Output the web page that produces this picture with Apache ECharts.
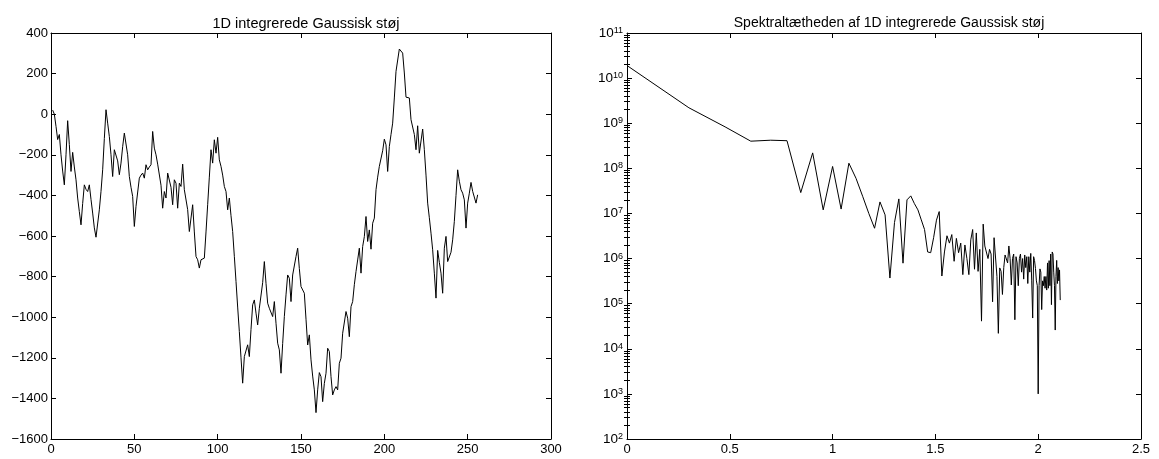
<!DOCTYPE html>
<html>
<head>
<meta charset="utf-8">
<script src="https://cdn.jsdelivr.net/npm/echarts@6/dist/echarts.min.js"></script>
<style>
html,body{margin:0;padding:0;background:#fff;}
#chart{width:1159px;height:459px;}
</style>
</head>
<body>
<div id="chart"></div>
<script>
// ---- Data ----
const leftTitle = "1D integrerede Gaussisk støj";
const rightTitle = "Spektraltætheden af 1D integrerede Gaussisk støj";

// integrated Gaussian noise, samples 1..256
const noiseValues = [
  20, 0, -60, -125, -100, -200, -280, -348, -200, -32,
  -150, -282, -188, -260, -323, -413, -480, -545, -440, -348,
  -370, -381, -348, -420, -487, -560, -606, -600, -471, -380,
  -274, -120, 22, -44, -110, -200, -307, -175, -167, -230,
  -298, -241, -160, -93, -101, -200, -307, -360, -405, -553,
  -454, -446, -315, -300, -290, -315, -249, -274, -260, -249,
  -85, -167, -200, -246, -241, -350, -463, -381, -413, -290,
  -282, -360, -446, -323, -340, -463, -340, -356, -246, -372,
  -372, -470, -578, -570, -446, -580, -701, -717, -758, -717,
  -715, -709, -580, -446, -310, -175, -241, -126, -192, -114,
  -225, -257, -300, -356, -381, -471, -413, -500, -578, -700,
  -824, -950, -1071, -1200, -1325, -1194, -1186, -1136, -1194, -1060,
  -939, -915, -980, -1038, -956, -947, -830, -726, -833, -931,
  -956, -948, -997, -923, -1030, -1128, -1161, -1276, -1130, -997,
  -890, -792, -808, -923, -792, -792, -701, -660, -760, -849,
  -841, -882, -1010, -1137, -1087, -1210, -1290, -1358, -1470, -1358,
  -1273, -1293, -1416, -1326, -1276, -1153, -1169, -1293, -1383, -1358,
  -1342, -1358, -1227, -1202, -1079, -1087, -972, -1005, -1096, -948,
  -923, -840, -775, -718, -660, -783, -652, -603, -504, -627,
  -570, -665, -537, -512, -372, -310, -257, -249, -180, -123,
  -151, -282, -159, -100, -44, 80, 211, 203, 321, 326,
  301, 203, 84, 82, 80, -27, -36, -100, -175, -57,
  -192, -200, -73, -175, -300, -438, -510, -586, -668, -783,
  -906, -671, -730, -783, -882, -660, -602, -726, -731, -680,
  -619, -528, -400, -274, -330, -372, -389, -422, -561, -438,
  -389, -336, -380, -385, -438, -397
];

// spectral density for frequency index k = 1..128 (plotted against log10 k)
const spectrumValues = [
  1.9e10, 2.2e9, 8.3e8, 4.0e8, 4.2e8, 4.1e8, 2.9e7, 2.2e8, 1.2e7, 1.1e8,
  1.25e7, 1.3e8, 6.0e7, 2.4e7, 1.0e7, 4.7e6, 1.8e7, 9.3e6, 3.7e5, 6.3e6,
  2.1e7, 7.9e5, 2.0e7, 2.45e7, 1.65e7, 1.2e7, 7.2e6, 4.4e6, 1.4e6, 1.35e6,
  2.9e6, 7.1e6, 1.1e7, 4.1e5, 1.4e6, 3.2e6, 2.2e6, 3.4e6, 8.7e5, 2.8e6,
  1.35e6, 2.2e6, 4.4e5, 2.0e6, 1.0e6, 4.4e5, 2.6e6, 4.4e6, 5.8e5, 3.7e6,
  5.2e5, 1.6e6, 4.1e4, 5.8e6, 1.9e6, 1.9e6, 1.0e6, 1.6e6, 1.26e6, 1.1e5,
  2.9e6, 2.7e6, 4.0e5, 2.2e4, 6.2e5, 5.2e5, 1.6e5, 6.3e5, 1.2e6, 1.3e6,
  8.0e5, 1.9e6, 1.0e6, 2.6e5, 1.0e6, 1.26e6, 4.4e4, 1.1e6, 8.0e5, 2.5e5,
  1.0e6, 1.26e6, 5.0e5, 1.0e6, 3.5e5, 1.2e6, 6.3e5, 1.1e6, 2.8e5, 1.1e6,
  5.0e5, 1.3e6, 3.2e5, 4.8e4, 1.1e6, 9.0e5, 6.0e5, 3.2e5, 2.5e5, 1.0e3,
  2.5e5, 5.9e5, 5.0e5, 7.4e4, 3.2e5, 2.5e5, 4.0e5, 2.2e5, 4.0e5, 2.0e5,
  8.0e5, 2.2e5, 9.0e5, 2.5e5, 1.26e6, 9.5e4, 1.4e6, 1.26e6, 5.0e5, 2.5e5,
  2.6e4, 4.0e5, 9.1e5, 2.8e5, 6.3e5, 3.2e5, 5.6e5, 1.2e5
];

// axis ticks
const leftXTicks = [0, 50, 100, 150, 200, 250, 300];
const leftYTicks = [-1600, -1400, -1200, -1000, -800, -600, -400, -200, 0, 200, 400];
const rightXTicks = [0, 0.5, 1, 1.5, 2, 2.5];
const rightYExponents = [2, 3, 4, 5, 6, 7, 8, 9, 10, 11];

// ---- Build ----
const noiseData = noiseValues.map((v, i) => [i + 1, v]);
const spectrumData = spectrumValues.map((v, i) => [Math.log10(i + 1), v]);
const majorLog = rightYExponents.map(e => Math.pow(10, e));
const minorLog = [];
for (let e = 2; e < 11; e++) for (let m = 2; m <= 9; m++) minorLog.push(m * Math.pow(10, e));

const FONT = '"Liberation Sans", Arial, Helvetica, sans-serif';
const black = '#000';
const lineAx = { show: true, onZero: false, lineStyle: { color: black, width: 1 } };
const tickIn = (len) => ({ show: true, inside: true, length: len, lineStyle: { color: black, width: 1 } });
const lab = { color: black, fontSize: 13, fontFamily: FONT, margin: 4 };
const minusFmt = v => String(v).replace('-', '\u2212');

const chart = echarts.init(document.getElementById('chart'), null, { renderer: 'canvas' });
chart.setOption({
  animation: false,
  backgroundColor: '#fff',
  title: [
    { text: leftTitle, left: 301, top: 11, textAlign: 'center',
      textStyle: { fontSize: 14.5, fontWeight: 'normal', color: black, fontFamily: FONT } },
    { text: rightTitle, left: 884, top: 11, textAlign: 'center',
      textStyle: { fontSize: 14, fontWeight: 'normal', color: black, fontFamily: FONT } }
  ],
  grid: [
    { left: 51, top: 33, width: 500, height: 406, containLabel: false },
    { left: 627, top: 33, width: 514, height: 406, containLabel: false }
  ],
  xAxis: [
    { gridIndex: 0, type: 'value', position: 'bottom', min: 0, max: 300, interval: 50,
      axisLine: lineAx, axisTick: tickIn(5), splitLine: { show: false },
      axisLabel: Object.assign({}, lab, { customValues: leftXTicks }) },
    { gridIndex: 0, type: 'value', position: 'top', min: 0, max: 300, interval: 50,
      axisLine: lineAx, axisTick: tickIn(5), splitLine: { show: false }, axisLabel: { show: false } },
    { gridIndex: 1, type: 'value', position: 'bottom', min: 0, max: 2.5, interval: 0.5,
      axisLine: lineAx, axisTick: tickIn(5), splitLine: { show: false },
      axisLabel: Object.assign({}, lab, { customValues: rightXTicks }) },
    { gridIndex: 1, type: 'value', position: 'top', min: 0, max: 2.5, interval: 0.5,
      axisLine: lineAx, axisTick: tickIn(5), splitLine: { show: false }, axisLabel: { show: false } }
  ],
  yAxis: [
    { gridIndex: 0, type: 'value', position: 'left', min: -1600, max: 400, interval: 200,
      axisLine: lineAx, axisTick: tickIn(5), splitLine: { show: false },
      axisLabel: Object.assign({}, lab, { margin: 3, formatter: minusFmt, customValues: leftYTicks }) },
    { gridIndex: 0, type: 'value', position: 'right', min: -1600, max: 400, interval: 200,
      axisLine: lineAx, axisTick: tickIn(5), splitLine: { show: false }, axisLabel: { show: false } },
    { gridIndex: 1, type: 'log', logBase: 10, position: 'left', min: 1e2, max: 1e11,
      axisLine: lineAx, axisTick: Object.assign(tickIn(5), { customValues: majorLog }), splitLine: { show: false },
      axisLabel: Object.assign({}, lab, {
        margin: 4,
        customValues: majorLog,
        formatter: v => '{b|10}{e|' + Math.round(Math.log10(v)) + '}',
        rich: {
          b: { fontSize: 13.5, fontFamily: FONT, color: black },
          e: { fontSize: 9, fontFamily: FONT, color: black, verticalAlign: 'top', padding: [0, 0, 0, 0] }
        }
      }) },
    { gridIndex: 1, type: 'log', logBase: 10, position: 'right', min: 1e2, max: 1e11,
      axisLine: lineAx, axisTick: Object.assign(tickIn(5), { customValues: majorLog }), splitLine: { show: false }, axisLabel: { show: false } },
    { gridIndex: 1, type: 'log', logBase: 10, position: 'left', min: 1e2, max: 1e11,
      axisLine: { show: false }, axisTick: Object.assign(tickIn(3), { customValues: minorLog }), splitLine: { show: false }, axisLabel: { show: false } },
    { gridIndex: 1, type: 'log', logBase: 10, position: 'right', min: 1e2, max: 1e11,
      axisLine: { show: false }, axisTick: Object.assign(tickIn(3), { customValues: minorLog }), splitLine: { show: false }, axisLabel: { show: false } }
  ],
  series: [
    { type: 'line', xAxisIndex: 0, yAxisIndex: 0, data: noiseData, showSymbol: false, symbol: 'none',
      lineStyle: { color: black, width: 1 }, silent: true },
    { type: 'line', xAxisIndex: 2, yAxisIndex: 2, data: spectrumData, showSymbol: false, symbol: 'none',
      lineStyle: { color: black, width: 1 }, silent: true }
  ]
});
</script>
</body>
</html>
